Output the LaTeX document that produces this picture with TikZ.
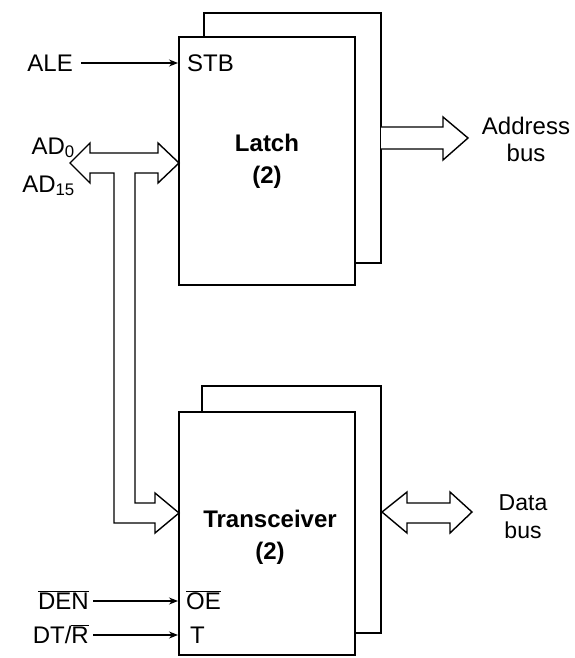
\documentclass[tikz,border=0pt]{standalone}
\usepackage{fontspec}
\setmainfont{Liberation Sans}
\usetikzlibrary{arrows.meta}
\begin{document}
\begin{tikzpicture}[x=1pt,y=-1pt,
  lbl/.style={font=\fontsize{24}{26}\selectfont, inner sep=0pt},
  boxlbl/.style={font=\fontsize{24}{32}\selectfont\bfseries, align=center, inner sep=0pt},
  frontbox/.style={draw, line width=2pt, fill=white, inner sep=0pt},
  backline/.style={draw, line width=2pt, line join=miter},
  sig/.style={line width=1.2pt, -{Stealth[length=9pt,width=7pt]}},
  bus/.style={draw, line width=1.4pt, fill=white, line join=miter}]
\useasboundingbox (0,0) rectangle (574,658);
% back boxes
\draw[backline] (204,37) -- (204,13) -- (381,13) -- (381,263) -- (355,263);
\draw[backline] (202,412) -- (202,386) -- (381,386) -- (381,633) -- (355,633);
% front boxes
\node[frontbox, minimum width=176pt, minimum height=248pt] (latch) at (267,161) {};
\node[frontbox, minimum width=176pt, minimum height=243pt] (trans) at (267,533.5) {};
\node[boxlbl] (latchtxt) at (267,161) {Latch\\(2)};
\node[boxlbl] (transtxt) at (270,537) {Transceiver\\(2)};
% pin labels inside
\node[lbl, anchor=west] (stb) at (187,63) {STB};
\node[lbl, anchor=base west] (oe) at (186,609) {$\overline{\mbox{OE}}$};
\node[lbl, anchor=base west] (t) at (190,643) {T};
% input labels
\node[lbl, anchor=east] (ale) at (73,63) {ALE};
\node[lbl, anchor=base east] (den) at (89,609) {$\overline{\mbox{DEN}}$};
\node[lbl, anchor=base east] (dtr) at (89,643) {DT/$\overline{\mbox{R}}$};
\node[lbl, anchor=base east] (ad0) at (75,154) {AD\textsubscript{0}};
\node[lbl, anchor=base east] (ad15) at (75,192) {AD\textsubscript{15}};
% signal arrows
\coordinate (stbpin) at (latch.west |- ale);
\coordinate (denout) at ([yshift=8pt]den.base east);
\coordinate (dtrout) at ([yshift=8pt]dtr.base east);
\coordinate (oepin) at (trans.west |- denout);
\coordinate (tpin) at (trans.west |- dtrout);
\draw[sig] (ale.east) ++(8,0) -- (stbpin);
\draw[sig] (denout) ++(4,0) -- (oepin);
\draw[sig] (dtrout) ++(4,0) -- (tpin);
% AD bus (T-shaped double arrow)
\draw[bus] (70,163) -- (90,143) -- (90,153) -- (158,153) -- (158,143)
  -- (179,163) -- (158,183) -- (158,173) -- (135,173) -- (135,503)
  -- (155,503) -- (155,493) -- (179,513) -- (155,533) -- (155,523)
  -- (114,523) -- (114,173) -- (90,173) -- (90,183) -- cycle;
% address bus
\draw[bus] (381,127) -- (443,127) -- (443,117) -- (468,138) -- (443,160)
  -- (443,149) -- (381,149);
\node[lbl, align=center, font=\fontsize{24}{27}\selectfont] (addr) at (526,139) {Address\\bus};
% data bus
\draw[bus] (382,512) -- (407,492) -- (407,503) -- (450,503) -- (450,492)
  -- (472,512) -- (450,533) -- (450,523) -- (407,523) -- (407,533) -- cycle;
\node[lbl, align=center, font=\fontsize{23}{28}\selectfont] (data) at (523,517) {Data\\bus};
\end{tikzpicture}
\end{document}
